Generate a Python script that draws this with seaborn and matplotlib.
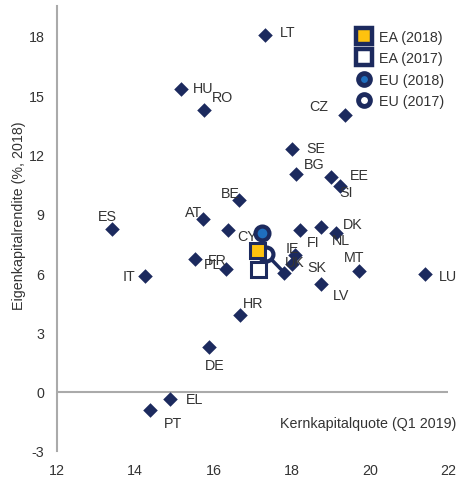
import numpy as np
import pandas as pd
import seaborn as sns
import matplotlib.pyplot as plt
from matplotlib.lines import Line2D

# country values: core capital ratio (Q1 2019) vs return on equity (2018)
countries = ['LT', 'HU', 'RO', 'BE', 'AT', 'ES', 'CY', 'IT', 'FR', 'PL', 'HR', 'DE',
             'EL', 'PT', 'IE', 'SK', 'UK', 'FI', 'DK', 'NL', 'MT', 'LV', 'LU', 'CZ',
             'SE', 'BG', 'EE', 'SI']
kernkapital = [17.33, 15.17, 15.77, 16.65, 15.73, 13.41, 16.38, 14.26, 15.52, 16.32, 16.69, 15.89,
               14.89, 14.38, 18.08, 18.00, 17.81, 18.21, 18.76, 19.13, 19.72, 18.76, 21.42, 19.36,
               18.01, 18.10, 19.01, 19.25]
rendite = [18.05, 15.28, 14.25, 9.68, 8.72, 8.25, 8.18, 5.87, 6.73, 6.18, 3.90, 2.24,
           -0.37, -0.93, 6.90, 6.48, 6.02, 8.16, 8.33, 8.03, 6.11, 5.42, 5.94, 14.00,
           12.27, 11.01, 10.86, 10.38]

# aggregates
agg_names = ['EA (2018)', 'EA (2017)', 'EU (2018)', 'EU (2017)']
agg_x = [17.12, 17.13, 17.25, 17.34]
agg_y = [7.15, 6.18, 8.03, 6.98]

# label offsets in pixels (dx to text start, dy upwards)
label_off = {
    'LT': (14, 3), 'HU': (12, 1), 'RO': (7, 13), 'BE': (-18, 7), 'AT': (-18, 7),
    'ES': (-14, 12), 'CY': (9, -6), 'IT': (-23, 0), 'FR': (13, -1), 'PL': (-22, 5),
    'HR': (2, 12), 'DE': (-4, -18), 'EL': (16, 0), 'PT': (14, -13), 'IE': (-9, 7),
    'SK': (16, -3), 'UK': (1, 11), 'FI': (7, -12), 'DK': (22, 3), 'NL': (-4, -7),
    'MT': (-15, 14), 'LV': (12, -11), 'LU': (14, -2), 'CZ': (-36, 9), 'SE': (14, 1),
    'BG': (8, 10), 'EE': (19, 2), 'SI': (-1, -6),
}

navy = '#1c2a5e'
blue = '#1f6fbf'
yellow = '#ffc20e'
grey_txt = '#333333'
fs = 10.3

df = pd.DataFrame({'land': countries, 'x': kernkapital, 'y': rendite})

sns.set_style('white')
plt.rcParams['font.family'] = ['Liberation Sans', 'DejaVu Sans']
plt.rcParams['axes.unicode_minus'] = False

fig = plt.figure(figsize=(4.57, 4.81), dpi=100)
ax = fig.add_axes([57 / 457, 29 / 481, 391 / 457, 445 / 481])

sns.scatterplot(data=df, x='x', y='y', marker='D', s=55, color=navy,
                edgecolor=navy, linewidth=0, ax=ax, zorder=3)

for i, c in enumerate(countries):
    dx, dy = label_off[c]
    ax.annotate(c, (kernkapital[i], rendite[i]), xytext=(dx * 0.72, dy * 0.72),
                textcoords='offset points', ha='left', va='center',
                fontsize=fs, color=grey_txt, zorder=4)

# connector from EU 2017 towards UK
uk = countries.index('UK')
ax.plot([agg_x[3], kernkapital[uk]], [agg_y[3], rendite[uk]], color=navy, lw=2.5, zorder=3)

styles = {
    'EA (2018)': dict(marker='s', mfc=yellow, ms=10.8, mew=2.2),
    'EA (2017)': dict(marker='s', mfc='white', ms=10.8, mew=2.2),
    'EU (2018)': dict(marker='o', mfc=blue, ms=10, mew=3),
    'EU (2017)': dict(marker='o', mfc='white', ms=10, mew=3),
}
leg_styles = {
    'EA (2018)': dict(marker='s', mfc=yellow, ms=12, mew=3.2),
    'EA (2017)': dict(marker='s', mfc='white', ms=12, mew=3.2),
    'EU (2018)': dict(marker='o', mfc=blue, ms=8.5, mew=3.5),
    'EU (2017)': dict(marker='o', mfc='white', ms=8.5, mew=3.5),
}
draw_order = ['EA (2017)', 'EU (2017)', 'EA (2018)', 'EU (2018)']
for name in draw_order:
    i = agg_names.index(name)
    ax.plot(agg_x[i], agg_y[i], ls='none', mec=navy, zorder=5, **styles[name])

handles = [Line2D([], [], ls='none', mec=navy, **leg_styles[n]) for n in agg_names]
ax.legend(handles, agg_names, loc='upper left', bbox_to_anchor=(355 / 457, 1 - 31 / 481),
          bbox_transform=fig.transFigure, frameon=False, fontsize=10.3,
          handlelength=1.2, handletextpad=0.5, labelspacing=0.52, borderpad=0,
          borderaxespad=0, labelcolor=grey_txt)

ax.set_xlim(12, 22)
ax.set_ylim(-3, 19.5)
ax.set_xticks(np.arange(12, 23, 2))
ax.set_yticks(np.arange(-3, 19, 3))
ax.tick_params(axis='both', length=0, labelsize=fs, labelcolor=grey_txt)
ax.tick_params(axis='y', pad=9)
ax.tick_params(axis='x', pad=9)

ax.axhline(0, color='#aaaaaa', lw=1.5, zorder=1)
for s in ['top', 'right', 'bottom']:
    ax.spines[s].set_visible(False)
ax.spines['left'].set_color('#aaaaaa')
ax.spines['left'].set_linewidth(1.5)

ax.set_xlabel('')
ax.set_ylabel('Eigenkapitalrendite (%, 2018)', fontsize=fs, color=grey_txt)
ax.yaxis.set_label_coords(-0.079, 0.53)
fig.text(456 / 457, 1 - 424 / 481, 'Kernkapitalquote (Q1 2019)', ha='right', va='center',
         fontsize=fs, color=grey_txt)

fig.savefig('out.png', dpi=100)
